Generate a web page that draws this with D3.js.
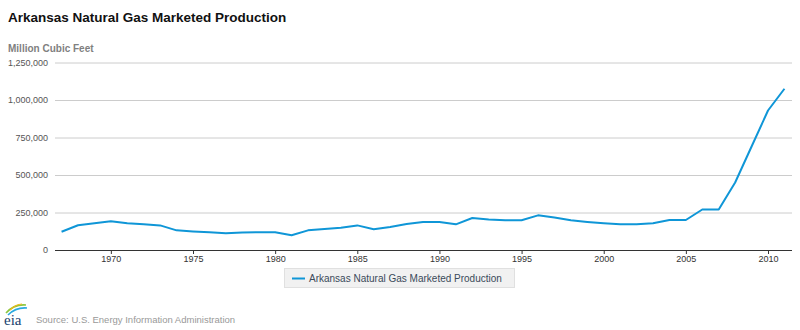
<!DOCTYPE html>
<html>
<head>
<meta charset="utf-8">
<script src="https://cdn.jsdelivr.net/npm/d3@7"></script>
<style>
  body { margin: 0; background: #fff; }
  text { font-family: "Liberation Sans", Arial, sans-serif; }
</style>
</head>
<body>
<div id="canvas"></div>
<script>
"use strict"

let drawingWidth = 800;
let drawingHeight = 330;

/* chart values */
let years = [1967, 1968, 1969, 1970, 1971, 1972, 1973, 1974, 1975, 1976,
    1977, 1978, 1979, 1980, 1981, 1982, 1983, 1984, 1985, 1986,
    1987, 1988, 1989, 1990, 1991, 1992, 1993, 1994, 1995, 1996,
    1997, 1998, 1999, 2000, 2001, 2002, 2003, 2004, 2005, 2006,
    2007, 2008, 2009, 2010, 2011];
let production = [122000, 165000, 178000, 192000, 178000, 171000, 164000, 131000, 124000, 118000,
    111000, 117000, 118000, 118000, 98000, 131000, 140000, 149000, 164000, 138000,
    153000, 173000, 187000, 187000, 171000, 213000, 204000, 198000, 198000, 231000,
    217000, 198000, 187000, 178000, 171000, 171000, 178000, 200000, 200000, 270000,
    270000, 450000, 690000, 930000, 1075000];
let yTicks = [0, 250000, 500000, 750000, 1000000, 1250000];
let xTicks = [1970, 1975, 1980, 1985, 1990, 1995, 2000, 2005, 2010];
let seriesName = "Arkansas Natural Gas Marketed Production";

let plotLeft = 55;
let plotRight = 792;
let plotTop = 62.5;
let plotBottom = 250;
let lineColor = "#0f96d7";

let drawing = d3.select("#canvas")
    .append("svg")
    .attr("width", drawingWidth)
    .attr("height", drawingHeight);

let x = d3.scaleLinear()
    .domain([1966.6, 2011.46])
    .range([plotLeft, plotRight]);

let y = d3.scaleLinear()
    .domain([0, 1250000])
    .range([plotBottom, plotTop]);

/* title and unit label */
drawing.append("text")
    .attr("x", 8)
    .attr("y", 22)
    .attr("font-size", 13.5)
    .attr("font-weight", "bold")
    .attr("fill", "#111")
    .text("Arkansas Natural Gas Marketed Production");

drawing.append("text")
    .attr("x", 8)
    .attr("y", 52)
    .attr("font-size", 10)
    .attr("font-weight", "bold")
    .attr("fill", "#808080")
    .text("Million Cubic Feet");

/* gridlines with y labels */
let yAxis = d3.axisLeft(y)
    .tickValues(yTicks)
    .tickSize(-(plotRight - plotLeft))
    .tickPadding(7)
    .tickFormat(d3.format(","));

let yG = drawing.append("g")
    .attr("transform", `translate(${plotLeft},0)`)
    .call(yAxis);
yG.select(".domain").remove();
yG.selectAll(".tick line")
    .attr("stroke", "#cccccc")
    .attr("stroke-width", 1);
yG.selectAll(".tick text")
    .attr("font-size", 9)
    .attr("fill", "#555")
    .style("font-family", "Liberation Sans, Arial, sans-serif");
yG.selectAll(".tick")
    .filter(d => d === 0)
    .select("line").remove();

/* x axis */
let xAxis = d3.axisBottom(x)
    .tickValues(xTicks)
    .tickSize(4)
    .tickPadding(2)
    .tickFormat(d3.format("d"));

let xG = drawing.append("g")
    .attr("transform", `translate(0,${plotBottom})`)
    .call(xAxis);
xG.select(".domain")
    .attr("d", `M${plotLeft},0.5H${plotRight}`)
    .attr("stroke", "#333")
    .attr("stroke-width", 1.2);
xG.selectAll(".tick line").attr("stroke", "#333");
xG.selectAll(".tick text")
    .attr("font-size", 9)
    .attr("fill", "#333")
    .style("font-family", "Liberation Sans, Arial, sans-serif");

/* the series line */
let points = years.map((yr, i) => [yr, production[i]]);
let lineGen = d3.line()
    .x(d => x(d[0]))
    .y(d => y(d[1]));

drawing.append("path")
    .datum(points)
    .attr("d", lineGen)
    .attr("fill", "none")
    .attr("stroke", lineColor)
    .attr("stroke-width", 2)
    .attr("stroke-linejoin", "round");

/* legend */
let legend = drawing.append("g");
legend.append("rect")
    .attr("x", 284.5)
    .attr("y", 268.5)
    .attr("width", 230)
    .attr("height", 19)
    .attr("fill", "#f1f1f1")
    .attr("stroke", "#e0e0e0");
legend.append("line")
    .attr("x1", 292)
    .attr("x2", 305)
    .attr("y1", 278.5)
    .attr("y2", 278.5)
    .attr("stroke", lineColor)
    .attr("stroke-width", 2);
legend.append("text")
    .attr("x", 309)
    .attr("y", 282)
    .attr("font-size", 10)
    .attr("fill", "#3a4a5a")
    .text(seriesName);

/* eia logo, roughly */
let logo = drawing.append("g");
logo.append("path")
    .attr("d", "M6,313 Q14,304 26,305")
    .attr("fill", "none")
    .attr("stroke", "#8cc63f")
    .attr("stroke-width", 1.6);
logo.append("path")
    .attr("d", "M8,315 Q16,307 27,308")
    .attr("fill", "none")
    .attr("stroke", "#29a9e0")
    .attr("stroke-width", 1.6);
logo.append("path")
    .attr("d", "M10,310 Q16,304 22,304")
    .attr("fill", "none")
    .attr("stroke", "#f7b512")
    .attr("stroke-width", 1.2);
logo.append("text")
    .attr("x", 4)
    .attr("y", 325)
    .attr("font-size", 15)
    .attr("fill", "#1b3f6e")
    .style("font-family", "Liberation Serif, serif")
    .text("eia");

drawing.append("text")
    .attr("x", 36)
    .attr("y", 323)
    .attr("font-size", 9.5)
    .attr("fill", "#999")
    .text("Source: U.S. Energy Information Administration");
</script>
</body>
</html>
